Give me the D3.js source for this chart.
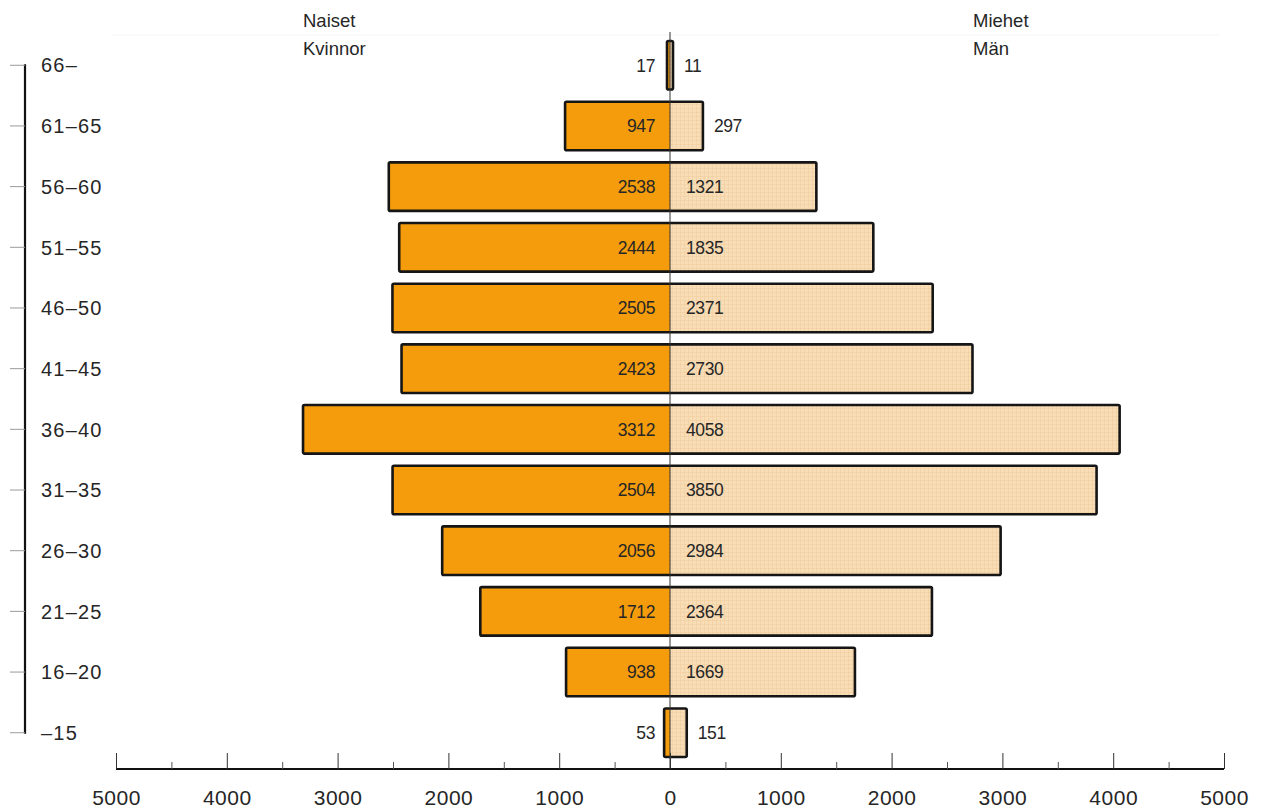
<!DOCTYPE html>
<html>
<head>
<meta charset="utf-8">
<script src="https://cdn.jsdelivr.net/npm/d3@7"></script>
<style>
  html, body { margin: 0; padding: 0; background: #fff; }
  svg { display: block; }
  text { font-family: "Liberation Sans", Arial, sans-serif; fill: #262626; }
</style>
</head>
<body>
<svg id="chart" width="1271" height="810"></svg>
<script>
const ageGroups = ["66–", "61–65", "56–60", "51–55", "46–50", "41–45", "36–40", "31–35", "26–30", "21–25", "16–20", "–15"];
const women = [17, 947, 2538, 2444, 2505, 2423, 3312, 2504, 2056, 1712, 938, 53];
const men   = [11, 297, 1321, 1835, 2371, 2730, 4058, 3850, 2984, 2364, 1669, 151];
const majorTicks = [-5000, -4000, -3000, -2000, -1000, 0, 1000, 2000, 3000, 4000, 5000];
const minorTicks = [-4500, -3500, -2500, -1500, -500, 500, 1500, 2500, 3500, 4500];
const headerLeft = ["Naiset", "Kvinnor"];
const headerRight = ["Miehet", "Män"];

const svg = d3.select("#chart");

const x = d3.scaleLinear().domain([-5000, 5000]).range([116, 1224]);
const y = d3.scaleBand().domain(ageGroups).range([41, 757]).paddingInner(0.2).paddingOuter(0);

const colWomen = "#F59C0C";
const colMen = "#F8DDB6";
const minHalf = 3; // minimum drawn half-width (px) so tiny bars stay visible

const wLeft = v => Math.min(x(-v), x(0) - minHalf);
const mRight = v => Math.max(x(v), x(0) + minHalf);

// texture pattern for men bars
const defs = svg.append("defs");
const pat = defs.append("pattern").attr("id", "grid").attr("patternUnits", "userSpaceOnUse")
  .attr("width", 4).attr("height", 4);
pat.append("rect").attr("width", 4).attr("height", 4).attr("fill", colMen);
pat.append("path").attr("d", "M0,0.5H4M0.5,0V4").attr("stroke", "#F1D0A4").attr("stroke-width", 0.8);

// faint top line
svg.append("line").attr("x1", 113).attr("x2", 1220).attr("y1", 35).attr("y2", 35)
  .attr("stroke", "#f6f6f6").attr("stroke-width", 1);

// headers
const hl = svg.append("text").style("font-size", "18.5px");
headerLeft.forEach((t, i) => hl.append("tspan").attr("x", 303).attr("y", 27 + i * 28).text(t));
const hr = svg.append("text").style("font-size", "18.5px");
headerRight.forEach((t, i) => hr.append("tspan").attr("x", 973).attr("y", 27 + i * 28).text(t));

// left category axis
const cy = d => y(d) + y.bandwidth() / 2;
svg.append("line").attr("x1", 25).attr("x2", 25)
  .attr("y1", cy(ageGroups[0]) - 1).attr("y2", cy(ageGroups[ageGroups.length - 1]) + 1)
  .attr("stroke", "#111").attr("stroke-width", 2.2);
svg.selectAll(".ytick").data(ageGroups).enter().append("line")
  .attr("x1", 10).attr("x2", 25).attr("y1", d => cy(d)).attr("y2", d => cy(d))
  .attr("stroke", "#9a9a9a").attr("stroke-width", 1);
svg.selectAll(".ylab").data(ageGroups).enter().append("text")
  .attr("x", 41).attr("y", d => cy(d)).attr("dy", "0.36em")
  .style("font-size", "20px").style("letter-spacing", "1.2px").text(d => d);

// bars
const rows = ageGroups.map((g, i) => ({ g, w: women[i], m: men[i] }));
const bar = svg.selectAll(".bar").data(rows).enter().append("g");
bar.append("rect").attr("x", d => wLeft(d.w)).attr("width", d => x(0) - wLeft(d.w))
  .attr("y", d => y(d.g)).attr("height", y.bandwidth()).attr("fill", colWomen);
bar.append("rect").attr("x", x(0)).attr("width", d => mRight(d.m) - x(0))
  .attr("y", d => y(d.g)).attr("height", y.bandwidth()).attr("fill", "url(#grid)");
bar.append("rect").attr("x", d => wLeft(d.w)).attr("width", d => mRight(d.m) - wLeft(d.w))
  .attr("y", d => y(d.g)).attr("height", y.bandwidth())
  .attr("fill", "none").attr("stroke", "#151515").attr("stroke-width", 2.6).attr("rx", 1.5);

// center line
svg.append("line").attr("x1", x(0)).attr("x2", x(0)).attr("y1", 32).attr("y2", 769)
  .attr("stroke", "#333").attr("stroke-width", 1);

// value labels
bar.append("text").attr("x", x(0) - 15).attr("y", d => y(d.g) + y.bandwidth() / 2).attr("dy", "0.36em")
  .attr("text-anchor", "end").style("font-size", "17.5px").style("letter-spacing", "-0.4px")
  .text(d => d.w);
bar.append("text")
  .attr("x", d => (mRight(d.m) - x(0) < 60 ? mRight(d.m) + 11 : x(0) + 16))
  .attr("y", d => y(d.g) + y.bandwidth() / 2).attr("dy", "0.36em")
  .attr("text-anchor", "start").style("font-size", "17.5px").style("letter-spacing", "-0.4px")
  .text(d => d.m);

// bottom axis
const axisY = 769;
const major = d3.axisBottom(x).tickValues(majorTicks).tickSize(-16).tickPadding(21)
  .tickFormat(d => Math.abs(d));
const gMaj = svg.append("g").attr("transform", `translate(0,${axisY})`).call(major);
gMaj.select(".domain").attr("stroke", "#111").attr("stroke-width", 2).attr("d", `M${x(-5000)},0H${x(5000)}`);
gMaj.selectAll(".tick line").attr("stroke", "#333").attr("stroke-width", 1);
gMaj.selectAll(".tick text").style("font-size", "21px").style("font-family", "Liberation Sans, Arial, sans-serif")
  .attr("fill", "#1a1a1a").style("letter-spacing", "0.5px");
const minor = d3.axisBottom(x).tickValues(minorTicks).tickSize(-7).tickFormat("");
const gMin = svg.append("g").attr("transform", `translate(0,${axisY})`).call(minor);
gMin.select(".domain").remove();
gMin.selectAll(".tick line").attr("stroke", "#555").attr("stroke-width", 1);
</script>
</body>
</html>
